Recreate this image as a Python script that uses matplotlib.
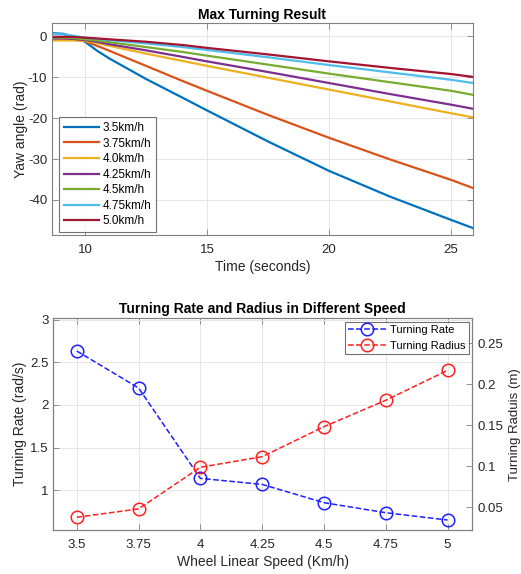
import matplotlib.pyplot as plt
from matplotlib.ticker import FormatStrFormatter

plt.rcParams['font.family'] = ['Liberation Sans', 'DejaVu Sans']
plt.rcParams['font.size'] = 10
plt.rcParams['axes.unicode_minus'] = False

# yaw angle vs time
t = [8.65, 9.1, 9.5, 10.0, 10.5, 11.0, 12.5, 14.0, 15.0, 17.5, 20.0, 22.5, 25.0, 25.9]
yaw_35 = [0.8, 0.65, 0.0, -1.3, -3.5, -5.4, -10.4, -15.0, -18.1, -25.7, -32.9, -39.2, -44.9, -46.9]
yaw_375 = [-0.4, -0.5, -0.7, -1.2, -2.3, -3.5, -7.2, -10.9, -13.3, -19.2, -24.8, -30.1, -35.1, -37.1]
yaw_40 = [-1.0, -1.0, -1.0, -1.1, -1.6, -2.3, -4.2, -6.0, -7.2, -10.1, -13.0, -15.9, -18.8, -19.8]
yaw_425 = [-0.5, -0.5, -0.6, -0.9, -1.3, -1.9, -3.4, -5.0, -6.1, -8.7, -11.4, -14.1, -16.7, -17.7]
yaw_45 = [-0.3, -0.3, -0.4, -0.7, -1.0, -1.4, -2.6, -3.8, -4.7, -6.9, -9.1, -11.2, -13.3, -14.3]
yaw_475 = [0.6, 0.5, 0.2, -0.3, -0.6, -0.9, -1.7, -2.6, -3.3, -5.1, -7.0, -8.8, -10.6, -11.4]
yaw_50 = [-0.1, -0.1, -0.1, -0.3, -0.5, -0.7, -1.3, -2.1, -2.8, -4.4, -6.1, -7.7, -9.2, -9.9]
labels = ['3.5km/h', '3.75km/h', '4.0km/h', '4.25km/h', '4.5km/h', '4.75km/h', '5.0km/h']

# turning rate / radius vs speed
speed = [3.5, 3.75, 4.0, 4.25, 4.5, 4.75, 5.0]
speed_labels = ['3.5', '3.75', '4', '4.25', '4.5', '4.75', '5']
rate = [2.635, 2.2, 1.137, 1.066, 0.851, 0.733, 0.647]
radius = [0.0378, 0.048, 0.0988, 0.1117, 0.1483, 0.1805, 0.217]

colors = ['#0072BD', '#D95319', '#EDB120', '#7E2F8E', '#77AC30', '#4DBEEE', '#A2142F']
txt = '#262626'
edge = '0.5'

def style(ax, right=True):
    for s in ax.spines.values():
        s.set_color(edge)
        s.set_linewidth(0.8)
    ax.tick_params(direction='in', length=4, width=0.6, colors=edge,
                   labelcolor=txt, labelsize=9.5, top=True, right=right)
    ax.tick_params(axis='x', pad=6.5)
    ax.grid(True, color='#e6e6e6', linewidth=0.7)
    ax.set_axisbelow(True)

fig = plt.figure(figsize=(5.21, 5.74), dpi=100)

ax1 = fig.add_axes([0.0998, 0.5906, 0.808, 0.3694])
for ys, c, lab in zip([yaw_35, yaw_375, yaw_40, yaw_425, yaw_45, yaw_475, yaw_50], colors, labels):
    ax1.plot(t, ys, color=c, linewidth=1.6, label=lab)
ax1.set_xlim(8.65, 25.9)
ax1.set_ylim(-48.6, 3.3)
ax1.set_xticks([10, 15, 20, 25])
ax1.set_yticks([0, -10, -20, -30, -40])
style(ax1)
ax1.set_xlabel('Time (seconds)', color=txt, labelpad=3)
ax1.set_ylabel('Yaw angle (rad)', color=txt, labelpad=0)
ax1.set_title('Max Turning Result', fontweight='bold', fontsize=10, pad=3)
leg = ax1.legend(loc='lower left', bbox_to_anchor=(0.017, 0.014), fontsize=8.5,
                 handlelength=3.0, labelspacing=0.3, borderaxespad=0, fancybox=False,
                 borderpad=0.4, handletextpad=0.3)
leg.get_frame().set_edgecolor('0.3')
leg.get_frame().set_linewidth(0.8)

ax2 = fig.add_axes([0.1023, 0.0767, 0.8042, 0.3688])
ax3 = ax2.twinx()
l1, = ax2.plot(speed, rate, '--o', color='#1f1fff', markersize=9, markerfacecolor='none',
               markeredgewidth=1.1, linewidth=1.1, label='Turning Rate')
l2, = ax3.plot(speed, radius, '--o', color='#ff2020', markersize=9, markerfacecolor='none',
               markeredgewidth=1.1, linewidth=1.1, label='Turning Radius')
ax2.set_xlim(3.405, 5.1)
ax2.set_ylim(0.53, 3.02)
ax3.set_ylim(0.0223, 0.2805)
ax2.set_xticks(speed)
ax2.set_xticklabels(speed_labels)
ax2.set_yticks([1, 1.5, 2, 2.5, 3])
ax2.yaxis.set_major_formatter(FormatStrFormatter('%g'))
ax3.set_yticks([0.05, 0.1, 0.15, 0.2, 0.25])
ax3.yaxis.set_major_formatter(FormatStrFormatter('%g'))
style(ax2, right=False)
for s in ax3.spines.values():
    s.set_color(edge)
    s.set_linewidth(0.8)
ax3.tick_params(direction='in', length=4, width=0.6, colors=edge, labelcolor=txt, labelsize=9.5)
ax2.set_xlabel('Wheel Linear Speed (Km/h)', color=txt, labelpad=3)
ax2.set_ylabel('Turning Rate (rad/s)', color=txt, labelpad=2)
ax3.set_ylabel('Turning Raduis (m)', color=txt, labelpad=4, fontsize=9.5)
ax2.set_title('Turning Rate and Radius in Different Speed', fontweight='bold', fontsize=10, pad=4)
leg2 = ax3.legend([l1, l2], ['Turning Rate', 'Turning Radius'], loc='upper right', fontsize=8,
                  handlelength=3.4, labelspacing=0.5, borderaxespad=0.3, fancybox=False,
                  borderpad=0.3, handletextpad=0.4)
leg2.get_frame().set_edgecolor('0.3')
leg2.get_frame().set_linewidth(0.8)

plt.savefig('out.png', dpi=100)
plt.close()
